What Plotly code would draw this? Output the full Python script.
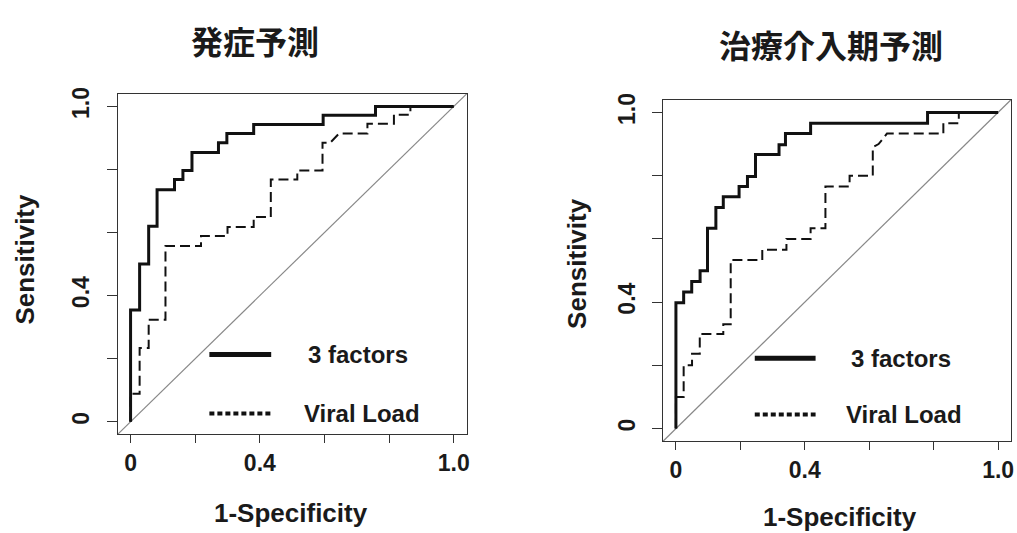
import plotly.graph_objects as go

W, H = 1017, 533

# ---- data (ROC curve corner points) ----
onset_3f_fpr = [0, 0, 0.028, 0.028, 0.056, 0.056, 0.082, 0.082, 0.136, 0.136, 0.162, 0.162,
                0.19, 0.19, 0.272, 0.272, 0.298, 0.298, 0.381, 0.381, 0.596, 0.596, 0.758, 0.758, 1.0]
onset_3f_tpr = [0, 0.354, 0.354, 0.5, 0.5, 0.62, 0.62, 0.736, 0.736, 0.768, 0.768, 0.797,
                0.797, 0.854, 0.854, 0.885, 0.885, 0.914, 0.914, 0.943, 0.943, 0.972, 0.972, 1.0, 1.0]

onset_vl_fpr = [0, 0, 0.028, 0.028, 0.056, 0.056, 0.108, 0.108, 0.218, 0.218, 0.300, 0.300,
                0.381, 0.381, 0.434, 0.434, 0.516, 0.516, 0.594, 0.594, 0.618, 0.645, 0.733,
                0.733, 0.815, 0.815, 0.866, 0.866, 1.0]
onset_vl_tpr = [0, 0.089, 0.089, 0.234, 0.234, 0.323, 0.323, 0.557, 0.557, 0.589, 0.589, 0.618,
                0.618, 0.649, 0.649, 0.768, 0.768, 0.797, 0.797, 0.885, 0.885, 0.914, 0.914,
                0.945, 0.945, 0.974, 0.974, 1.0, 1.0]

interv_3f_fpr = [0, 0, 0.024, 0.024, 0.049, 0.049, 0.075, 0.075, 0.098, 0.098, 0.124, 0.124,
                 0.147, 0.147, 0.196, 0.196, 0.222, 0.222, 0.247, 0.247, 0.32, 0.32, 0.34, 0.34,
                 0.418, 0.418, 0.781, 0.781, 1.0]
interv_3f_tpr = [0, 0.398, 0.398, 0.432, 0.432, 0.465, 0.465, 0.499, 0.499, 0.634, 0.634, 0.699,
                 0.699, 0.733, 0.733, 0.766, 0.766, 0.797, 0.797, 0.867, 0.867, 0.898, 0.898, 0.933,
                 0.933, 0.966, 0.966, 1.0, 1.0]

interv_vl_fpr = [0, 0, 0.024, 0.024, 0.05, 0.05, 0.074, 0.074, 0.147, 0.147, 0.17, 0.17, 0.268,
                 0.268, 0.343, 0.343, 0.418, 0.418, 0.464, 0.464, 0.539, 0.539, 0.611, 0.611,
                 0.629, 0.655, 0.83, 0.83, 0.878, 0.878, 1.0]
interv_vl_tpr = [0, 0.1, 0.1, 0.2, 0.2, 0.237, 0.237, 0.299, 0.299, 0.33, 0.33, 0.533, 0.533,
                 0.566, 0.566, 0.6, 0.6, 0.634, 0.634, 0.766, 0.766, 0.8, 0.8, 0.89,
                 0.9, 0.933, 0.933, 0.966, 0.966, 1.0, 1.0]

titles = ["発症予測", "治療介入期予測"]
legend_labels = ["3 factors", "Viral Load"]
x_label = "1-Specificity"
y_label = "Sensitivity"
tick_vals = [0, 0.2, 0.4, 0.6, 0.8, 1.0]
tick_text = ["0", "", "0.4", "", "", "1.0"]

FONT = "Liberation Sans, Arial, sans-serif"
CJK = "Noto Sans CJK JP"
INK = "#1a1a1a"


def px(x):
    return x / W


def py(y):
    return 1 - y / H


fig = go.Figure()

panels = [
    dict(xa="x", ya="y", dom_x=(118, 468), dom_y=(88, 433),
         a=(onset_3f_fpr, onset_3f_tpr), b=(onset_vl_fpr, onset_vl_tpr),
         title=(256, 33), xl=(292, 513), yl=(25, 255),
         leg_x=(210, 272), leg_y=(352, 412), leg_tx=(307, 303)),
    dict(xa="x2", ya="y2", dom_x=(665, 1014), dom_y=(94, 440),
         a=(interv_3f_fpr, interv_3f_tpr), b=(interv_vl_fpr, interv_vl_tpr),
         title=(833, 37), xl=(842, 517), yl=(578, 260),
         leg_x=(757, 818), leg_y=(356, 413), leg_tx=(852, 846)),
]

annotations = []
shapes = []
for i, p in enumerate(panels):
    fig.add_trace(go.Scatter(x=p["b"][0], y=p["b"][1], mode="lines", xaxis=p["xa"], yaxis=p["ya"],
                             line=dict(color="#111111", width=2, dash="10px,5px"),
                             showlegend=False, hoverinfo="skip"))
    fig.add_trace(go.Scatter(x=p["a"][0], y=p["a"][1], mode="lines", xaxis=p["xa"], yaxis=p["ya"],
                             line=dict(color="#111111", width=3),
                             showlegend=False, hoverinfo="skip"))
    # diagonal reference
    shapes.append(dict(type="line", xref=f"{p['xa']} domain", yref=f"{p['ya']} domain",
                       x0=0, y0=0, x1=1, y1=1, line=dict(color="#888888", width=1.2), layer="below"))
    # legend samples
    shapes.append(dict(type="line", xref="paper", yref="paper",
                       x0=px(p["leg_x"][0]), x1=px(p["leg_x"][1]),
                       y0=py(p["leg_y"][0]), y1=py(p["leg_y"][0]),
                       line=dict(color="#111111", width=5)))
    shapes.append(dict(type="line", xref="paper", yref="paper",
                       x0=px(p["leg_x"][0]), x1=px(p["leg_x"][1]),
                       y0=py(p["leg_y"][1]), y1=py(p["leg_y"][1]),
                       line=dict(color="#111111", width=4, dash="5px,3px")))
    for j in range(2):
        annotations.append(dict(text=legend_labels[j], xref="paper", yref="paper",
                                x=px(p["leg_tx"][j]), y=py(p["leg_y"][j]), xanchor="left",
                                yanchor="middle", showarrow=False,
                                font=dict(family=FONT, size=24, color=INK, weight="bold")))
    annotations.append(dict(text=titles[i], xref="paper", yref="paper",
                            x=px(p["title"][0]), y=py(p["title"][1]), xanchor="center",
                            yanchor="middle", showarrow=False,
                            font=dict(family=CJK, size=32, color=INK, weight="bold")))
    annotations.append(dict(text=x_label, xref="paper", yref="paper",
                            x=px(p["xl"][0]), y=py(p["xl"][1]), xanchor="center",
                            yanchor="middle", showarrow=False,
                            font=dict(family=FONT, size=26, color=INK, weight="bold")))
    annotations.append(dict(text=y_label, xref="paper", yref="paper", textangle=-90,
                            x=px(p["yl"][0]), y=py(p["yl"][1]), xanchor="center",
                            yanchor="middle", showarrow=False,
                            font=dict(family=FONT, size=26, color=INK, weight="bold")))

axis_common = dict(range=[-0.04, 1.04], tickvals=tick_vals, ticktext=tick_text,
                   showgrid=False, zeroline=False, showline=True, mirror=True,
                   linecolor="#333333", linewidth=1, ticks="outside",
                   tickcolor="#333333", tickwidth=1,
                   tickfont=dict(family=FONT, size=23, color=INK, weight="bold"))

layout = dict(
    width=W, height=H, margin=dict(l=0, r=0, t=0, b=0),
    paper_bgcolor="white", plot_bgcolor="white",
    shapes=shapes, annotations=annotations, showlegend=False,
)
for i, p in enumerate(panels):
    sfx = "" if i == 0 else str(i + 1)
    layout["xaxis" + sfx] = dict(axis_common, domain=[px(p["dom_x"][0]), px(p["dom_x"][1])],
                                 anchor="y" + sfx, ticklen=8, ticklabelstandoff=0)
    layout["yaxis" + sfx] = dict(axis_common, domain=[py(p["dom_y"][1]), py(p["dom_y"][0])],
                                 anchor="x" + sfx, ticklen=10, tickangle=-90, ticklabelstandoff=8)

fig.update_layout(**layout)
fig.write_html("out.html")
